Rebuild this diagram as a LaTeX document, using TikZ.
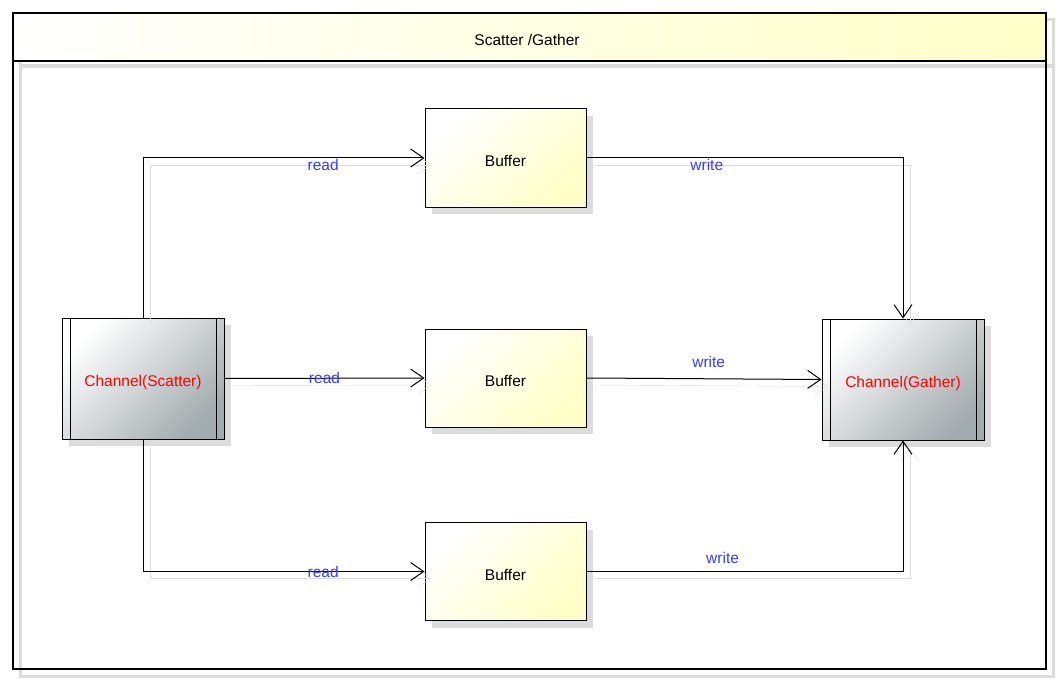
\documentclass[tikz,border=0pt]{standalone}
\usepackage{fontspec}
\setmainfont{Liberation Sans}
\usetikzlibrary{arrows.meta,shadows}

\definecolor{bufferyellow}{HTML}{FFFFC8}
\definecolor{channelgray}{HTML}{A3ACAF}
\definecolor{labelblue}{HTML}{3A3AFF}
\definecolor{ghost}{HTML}{DCDCDC}

\tikzset{
  every node/.style={font=\fontsize{15.5}{18}\selectfont},
  boxshadow/.style={general shadow={fill=ghost, shadow xshift=7pt, shadow yshift=-7pt}},
  buffer/.style={draw, line width=1pt, boxshadow, top color=white, bottom color=bufferyellow,
    shading angle=45, minimum width=161pt, minimum height=98pt, text height=18pt, text depth=1pt},
  channel/.style={draw, line width=1pt, boxshadow, top color=white, bottom color=channelgray,
    shading angle=45, minimum width=162pt, minimum height=121pt, text=red,
    text height=17pt, text depth=1pt,
    path picture={\draw[line width=1pt]
      ([xshift=8pt]path picture bounding box.north west) -- ([xshift=8pt]path picture bounding box.south west)
      ([xshift=-8pt]path picture bounding box.north east) -- ([xshift=-8pt]path picture bounding box.south east);}},
  conn/.style={draw, line width=1pt, -{Straight Barb[length=13pt,width=18pt]},
    preaction={draw=ghost, transform canvas={shift={(7pt,-7pt)}}}},
  lbl/.style={text=labelblue, inner sep=1pt},
}

\begin{document}
\begin{tikzpicture}[x=1pt,y=-1pt]
\useasboundingbox (0,0) rectangle (1058,682);

% frame
\draw[ghost, line width=3pt] (20,20) rectangle (1053,676);
\draw[ghost, line width=4pt] (20,66) -- (1053,66);
\shade[left color=white, right color=bufferyellow] (13,13) rectangle (1046,61);
\draw[line width=2pt] (13,13) rectangle (1046,669);
\draw[line width=2pt] (13,61) -- (1046,61);
\node (title) at (527,40) {Scatter /Gather};

% nodes
\node[channel] (scatter) at (143,378.5) {Channel(Scatter)};
\node[channel] (gather) at (903,379.5) {Channel(Gather)};
\node[buffer] (buf1) at (505.5,158) {Buffer};
\node[buffer] (buf2) at (505.5,378) {Buffer};
\node[buffer] (buf3) at (505.5,571.5) {Buffer};

% read
\draw[conn] (scatter.north) |- (buf1.west) node[lbl, pos=0.82, yshift=-7pt] {read};
\draw[conn] (scatter.east) -- (buf2.west) node[lbl, pos=0.5] {read};
\draw[conn] (scatter.south) |- (buf3.west) node[lbl, pos=0.82] {read};

% write
\draw[conn] (buf1.east) -| (gather.north) node[lbl, pos=0.19, yshift=-7pt] {write};
\draw[conn] (buf2.east) -- (gather.west) node[lbl, pos=0.52, yshift=17pt] {write};
\draw[conn] (buf3.east) -| (gather.south) node[lbl, pos=0.215, yshift=14pt] {write};
\end{tikzpicture}
\end{document}
